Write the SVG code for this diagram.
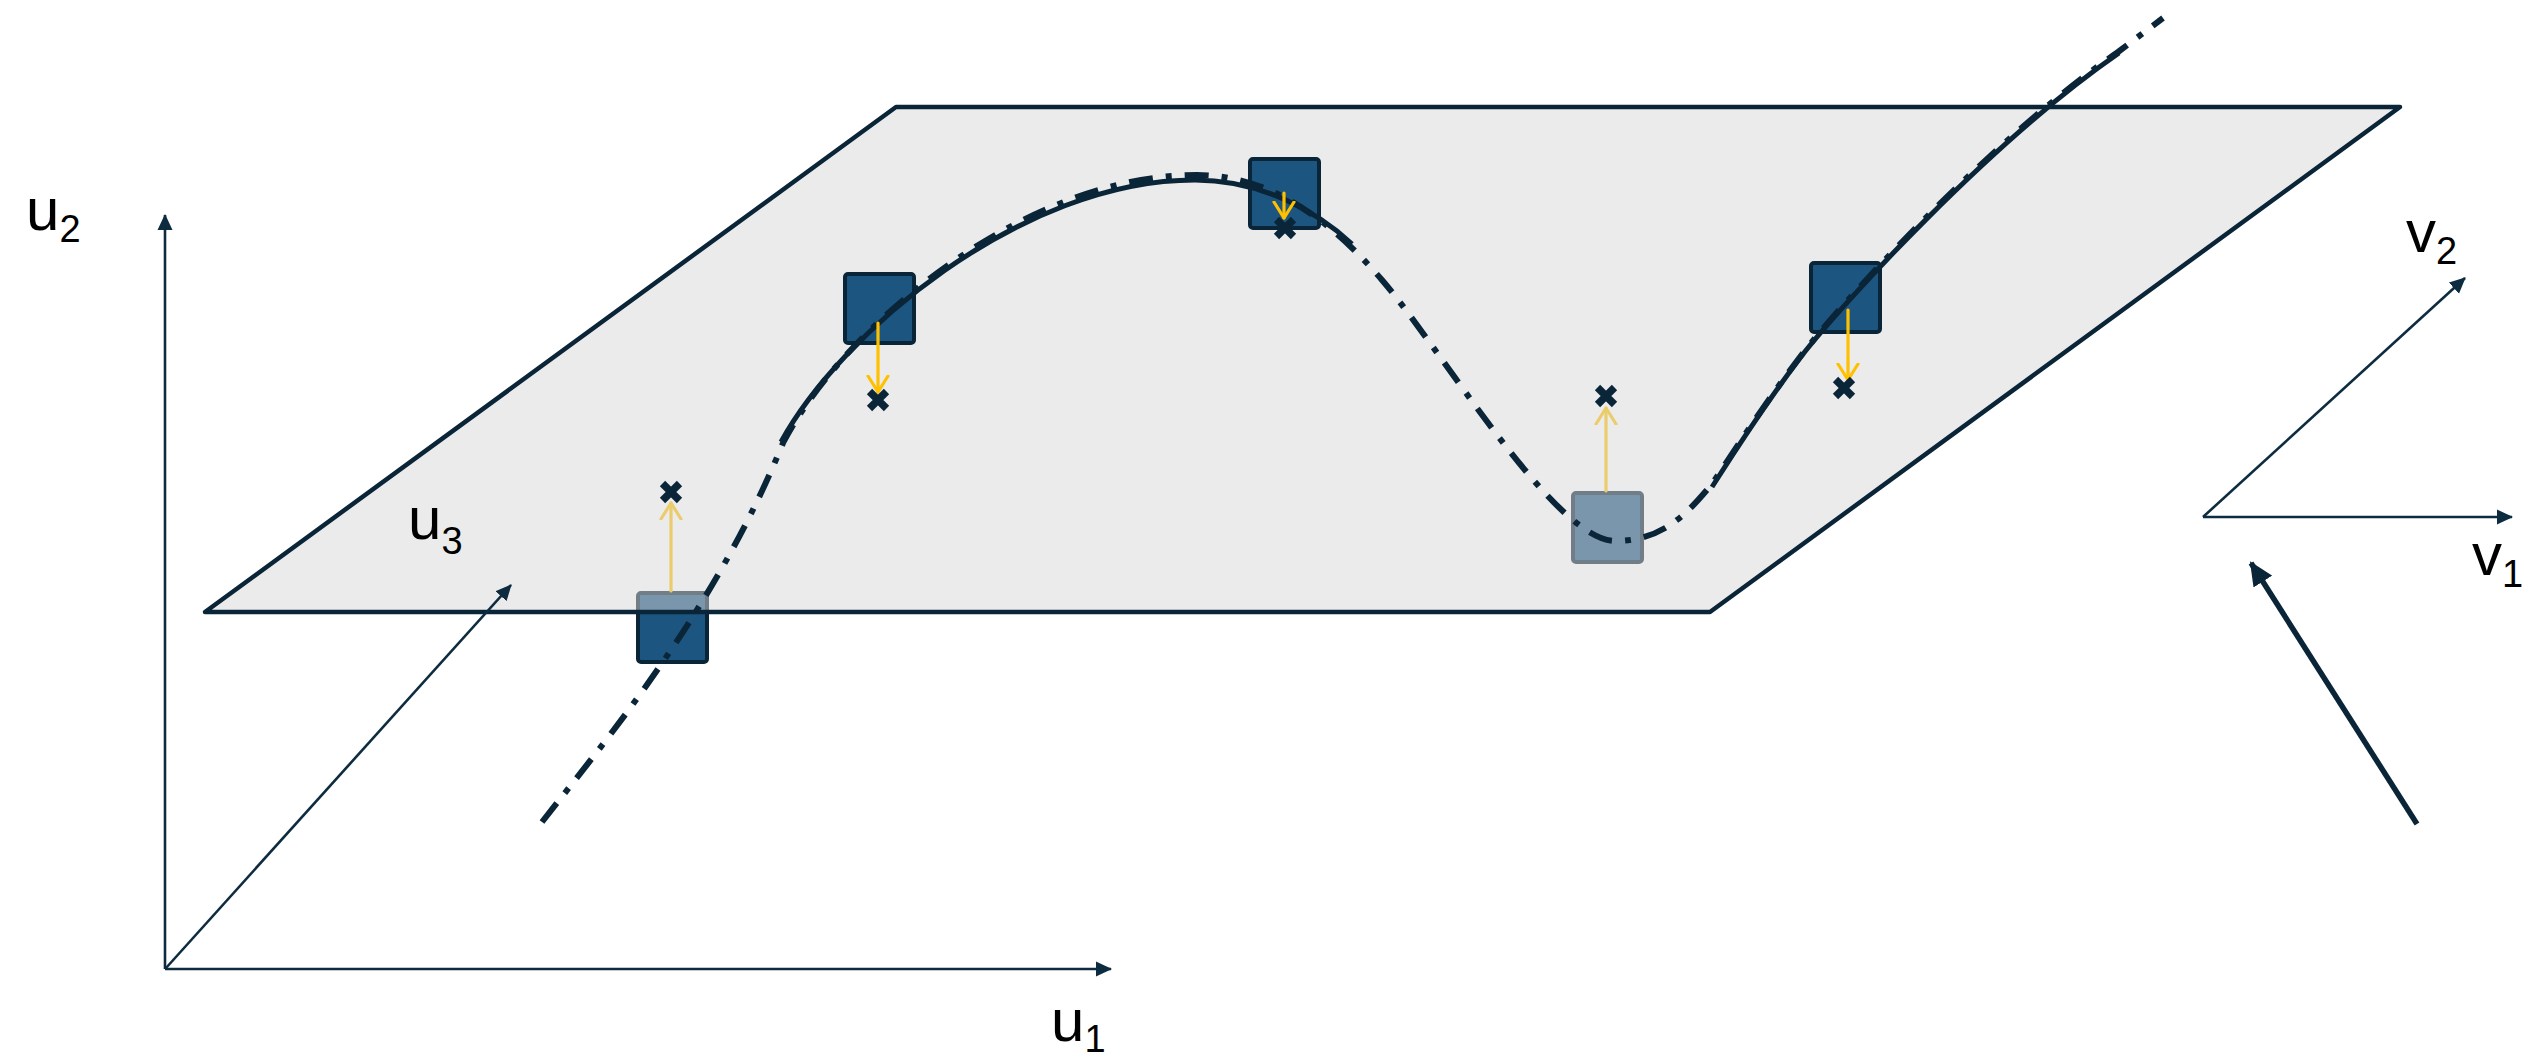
<svg xmlns="http://www.w3.org/2000/svg" width="2528" height="1055" viewBox="0 0 2528 1055">
  <style>
    .axis { fill: none; stroke: #0E2C40; stroke-width: 2.6; }
    .plane { fill: #D7D7D7; fill-opacity: 0.5; stroke: #0B2538; stroke-width: 4.5; stroke-linejoin: round; }
    .node { fill: #1D5581; stroke: #0B2538; stroke-width: 4; }
    .curve { fill: none; stroke: #0B2538; stroke-width: 5; }
    .dashdot { fill: none; stroke: #0B2538; stroke-width: 6; stroke-dasharray: 24 13 6 13; }
    .shift { fill: none; stroke: #FFC000; stroke-width: 3.2; stroke-linecap: round; }
    .mark { fill: none; stroke: #0B2538; stroke-width: 7.5; }
    .lbl { font-family: "Liberation Sans", Arial, sans-serif; font-size: 60px; fill: #000; }
    .sub { font-size: 38px; }
  </style>
  <defs>
    <marker id="ah" viewBox="0 0 16 16" refX="15" refY="8" markerWidth="16" markerHeight="16" markerUnits="userSpaceOnUse" orient="auto">
      <path d="M0,0.5 L16,8 L0,15.5 z" fill="#0E2C40"/>
    </marker>
    <marker id="ahBig" viewBox="0 0 24 22" refX="22" refY="11" markerWidth="24" markerHeight="22" markerUnits="userSpaceOnUse" orient="auto">
      <path d="M0,0 L24,11 L0,22 z" fill="#0B2538"/>
    </marker>
    <marker id="chev" viewBox="0 0 20 24" refX="17" refY="12" markerWidth="20" markerHeight="24" markerUnits="userSpaceOnUse" orient="auto">
      <path d="M1,2 L17,12 L1,22" fill="none" stroke="#FFC000" stroke-width="3.2" stroke-linecap="round" stroke-linejoin="round"/>
    </marker>
    <path id="x" d="M-8.5,-8.5 L8.5,8.5 M8.5,-8.5 L-8.5,8.5"/>
  </defs>

  <!-- coordinate axes u1, u2 -->
  <g id="axes-u">
    <line class="axis" x1="165" y1="969" x2="165" y2="215" marker-end="url(#ah)"/>
    <line class="axis" x1="165" y1="969" x2="1111" y2="969" marker-end="url(#ah)"/>
  </g>

  <!-- samples lying below the plane (seen through it) -->
  <g id="node-s1"><rect class="node" x="638" y="593" width="69" height="69" rx="3"/></g>
  <g id="node-s4"><rect class="node" x="1573" y="493" width="69" height="69" rx="3"/></g>

  <!-- upward shifts, also below the plane -->
  <g id="shifts-up">
    <line class="shift" x1="671" y1="591" x2="671" y2="503" marker-end="url(#chev)"/>
    <line class="shift" x1="1606" y1="491" x2="1606" y2="408" marker-end="url(#chev)"/>
  </g>

  <!-- tangent plane -->
  <g id="plane">
    <path class="plane" d="M205,612 L896,107 L2400,107 L1710,612 Z"/>
  </g>

  <!-- depth axis u3 -->
  <g id="axis-u3">
    <line class="axis" x1="166" y1="968" x2="511" y2="585" marker-end="url(#ah)"/>
  </g>

  <!-- samples on or above the plane -->
  <g id="node-s2"><rect class="node" x="845" y="274" width="69" height="69" rx="3"/></g>
  <g id="node-s3"><rect class="node" x="1250" y="159" width="69" height="69" rx="3"/></g>
  <g id="node-s5"><rect class="node" x="1811" y="263" width="69" height="69" rx="3"/></g>

  <!-- connectors: manifold curve (dash-dot) and fitted pieces (solid), shifts -->
  <g id="connectors">
    <path class="dashdot" d="M542,822 C610,735 715,610 783,443 C840,332 1020,175 1197,175 C1262,175 1322,210 1382,280 C1442,350 1555,541 1615,541 C1665,541 1690,510 1712,484 C1735,450 1760,410 1800,357 C1840,304 1990,140 2118,52 L2163,18"/>
    <path class="curve" d="M781,442 C840,334 1020,180 1195,180 C1262,180 1318,212 1352,244"/>
    <path class="curve" d="M1712,487 C1735,451 1760,411 1800,358 C1840,306 1990,142 2119,53"/>
    <line class="shift" x1="878" y1="323" x2="878" y2="392" marker-end="url(#chev)"/>
    <line class="shift" x1="1284" y1="193" x2="1284" y2="218" marker-end="url(#chev)"/>
    <line class="shift" x1="1848" y1="310" x2="1848" y2="380" marker-end="url(#chev)"/>
  </g>

  <!-- projected points -->
  <g id="marks">
    <use href="#x" class="mark" x="671" y="492"/>
    <use href="#x" class="mark" x="878" y="400"/>
    <use href="#x" class="mark" x="1285" y="228"/>
    <use href="#x" class="mark" x="1606" y="396"/>
    <use href="#x" class="mark" x="1844" y="388"/>
  </g>

  <!-- local frame v1, v2 and direction arrow -->
  <g id="axes-v">
    <line class="axis" x1="2203" y1="517" x2="2512" y2="517" marker-end="url(#ah)"/>
    <line class="axis" x1="2203" y1="517" x2="2465" y2="278" marker-end="url(#ah)"/>
  </g>
  <g id="direction">
    <line x1="2417" y1="824" x2="2251" y2="563" stroke="#0B2538" stroke-width="5.5" marker-end="url(#ahBig)"/>
  </g>

  <g id="labels">
    <text class="lbl" x="26" y="230">u<tspan class="sub" dy="12">2</tspan></text>
    <text class="lbl" x="408" y="539">u<tspan class="sub" dy="15">3</tspan></text>
    <text class="lbl" x="1051" y="1041">u<tspan class="sub" dy="11">1</tspan></text>
    <text class="lbl" x="2406" y="252">v<tspan class="sub" dy="12">2</tspan></text>
    <text class="lbl" x="2472" y="575">v<tspan class="sub" dy="12">1</tspan></text>
  </g>
</svg>
